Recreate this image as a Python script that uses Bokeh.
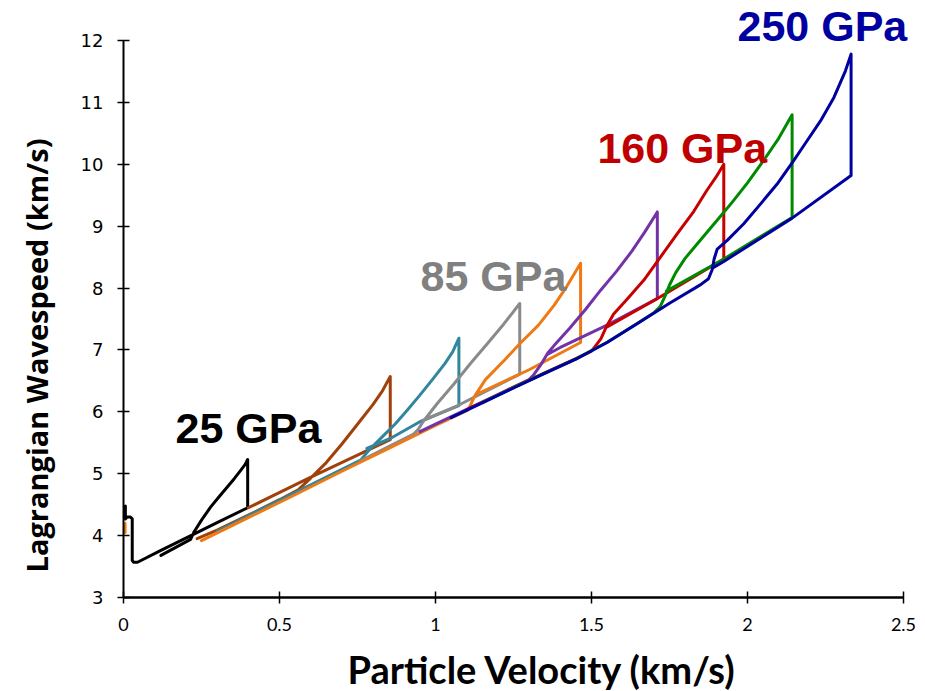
import math
from bokeh.plotting import figure
from bokeh.models import Range1d, FixedTicker, Label, NumeralTickFormatter
from bokeh.embed import file_html
from bokeh.resources import INLINE

nan = float("nan")

# ---------------- data (u = particle velocity km/s, c = wavespeed km/s)
x_ticks = [0, 0.5, 1, 1.5, 2, 2.5]
y_ticks = [3, 4, 5, 6, 7, 8, 9, 10, 11, 12]

black_u = [0.12, 0.215, 0.225, 0.25, 0.279, 0.305, 0.332, 0.355, 0.375, 0.390, 0.398, 0.398, 0.30, 0.224, 0.12, 0.045, 0.032, 0.028, 0.028, 0.022, 0.012, 0.006, 0.006]
black_c = [3.68, 3.94, 4.05, 4.25, 4.46, 4.62, 4.78, 4.92, 5.05, 5.15, 5.23, 4.45, 4.21, 4.02, 3.76, 3.57, 3.57, 3.60, 4.27, 4.30, 4.30, 4.27, 4.48]

brown_u = [0.236, 0.30, 0.40, 0.50, 0.56, 0.60, 0.65, 0.70, 0.75, 0.80, 0.83, 0.855, 0.855, 0.594, 0.40]
brown_c = [3.95, 4.09, 4.33, 4.58, 4.74, 4.93, 5.18, 5.48, 5.80, 6.12, 6.34, 6.57, 5.55, 4.93, 4.45]

teal_u = [0.30, 0.40, 0.50, 0.60, 0.70, 0.76, 0.79, 0.83, 0.87, 0.91, 0.95, 0.99, 1.03, 1.055, 1.075, 1.075, 0.95, 0.855, 0.78]
teal_c = [4.07, 4.32, 4.57, 4.82, 5.07, 5.22, 5.40, 5.60, 5.80, 6.03, 6.27, 6.52, 6.78, 6.97, 7.19, 6.10, 5.84, 5.57, 5.41]

gray_u = [0.76, 0.85, 0.93, 0.945, 0.96, 1.005, 1.059, 1.112, 1.166, 1.219, 1.27, 1.27, 1.075, 0.96]
gray_c = [5.21, 5.44, 5.64, 5.72, 5.84, 6.13, 6.45, 6.78, 7.10, 7.42, 7.75, 6.61, 6.11, 5.86]

orange_u = [0.005, 0.005, nan, 0.25, 0.40, 0.55, 0.70, 0.85, 1.00, 1.08, 1.105, 1.125, 1.16, 1.22, 1.27, 1.33, 1.38, 1.42, 1.465, 1.465, 1.30, 1.13]
orange_c = [4.05, 4.20, nan, 3.92, 4.29, 4.66, 5.04, 5.41, 5.78, 5.97, 6.03, 6.25, 6.52, 6.83, 7.10, 7.40, 7.72, 8.02, 8.40, 7.12, 6.68, 6.28]

purple_u = [0.95, 1.00, 1.10, 1.20, 1.30, 1.315, 1.34, 1.36, 1.38, 1.43, 1.48, 1.53, 1.58, 1.63, 1.67, 1.711, 1.711, 1.55, 1.40, 1.36]
purple_c = [5.68, 5.80, 6.04, 6.28, 6.52, 6.60, 6.78, 6.95, 7.07, 7.35, 7.65, 7.97, 8.27, 8.60, 8.90, 9.23, 7.83, 7.40, 7.04, 6.93]

red_u = [1.10, 1.15, 1.25, 1.35, 1.45, 1.50, 1.53, 1.55, 1.571, 1.614, 1.668, 1.721, 1.775, 1.828, 1.87, 1.90, 1.924, 1.924, 1.721, 1.55]
red_c = [6.035, 6.155, 6.395, 6.63, 6.86, 6.98, 7.18, 7.40, 7.58, 7.82, 8.13, 8.50, 8.88, 9.24, 9.58, 9.80, 10.0, 8.47, 7.86, 7.37]

green_u = [1.15, 1.25, 1.35, 1.45, 1.55, 1.65, 1.70, 1.72, 1.735, 1.75, 1.77, 1.80, 1.85, 1.90, 1.95, 2.00, 2.05, 2.10, 2.143, 2.143, 1.924, 1.74]
green_c = [6.15, 6.39, 6.625, 6.855, 7.125, 7.44, 7.60, 7.70, 7.86, 8.05, 8.25, 8.48, 8.78, 9.08, 9.38, 9.70, 10.05, 10.42, 10.80, 9.14, 8.47, 7.95]

blue_u = [1.05, 1.15, 1.25, 1.35, 1.45, 1.55, 1.65, 1.75, 1.85, 1.875, 1.887, 1.893, 1.903, 1.935, 1.988, 2.042, 2.095, 2.148, 2.191, 2.234, 2.277, 2.314, 2.332, 2.332, 2.143, 1.924, 1.89]
blue_c = [5.905, 6.145, 6.385, 6.62, 6.85, 7.12, 7.435, 7.755, 8.055, 8.15, 8.30, 8.47, 8.63, 8.77, 9.04, 9.36, 9.68, 10.06, 10.38, 10.70, 11.08, 11.51, 11.78, 9.82, 9.13, 8.43, 8.33]

series = [
    (black_u, black_c, "#000000"),
    (brown_u, brown_c, "#A0410A"),
    (teal_u, teal_c, "#31869E"),
    (gray_u, gray_c, "#8A8A8A"),
    (orange_u, orange_c, "#EE7A16"),
    (purple_u, purple_c, "#7333A6"),
    (red_u, red_c, "#C80000"),
    (green_u, green_c, "#008A00"),
    (blue_u, blue_c, "#0000A0"),
]

pressure_labels = ["25 GPa", "85 GPa", "160 GPa", "250 GPa"]
pressure_colors = ["#000000", "#808080", "#C00000", "#0000A0"]
label_u = [0.1667, 0.952, 1.519, 1.968]
label_c = [5.74, 8.195, 10.263, 12.234]

# ---------------- figure: the frame covers the whole canvas, axes are pinned at u=0 and c=3
PX_U = 312.0          # pixels per km/s on x
PX_C = 557.0 / 9.0    # pixels per km/s on y
W, H = 925, 691
x0 = -123.0 / PX_U
x1 = x0 + W / PX_U
y1 = 12.0 + 40.0 / PX_C
y0 = y1 - H / PX_C

p = figure(width=W, height=H, x_range=Range1d(x0, x1), y_range=Range1d(y0, y1),
           output_backend="svg", toolbar_location=None,
           min_border_left=0, min_border_right=0, min_border_top=0, min_border_bottom=0)
p.xgrid.visible = False
p.ygrid.visible = False
p.outline_line_color = None

for u, c, col in series:
    p.line(u, c, line_color=col, line_width=3, line_join="round", line_cap="round")

for txt, col, lu, lc in zip(pressure_labels, pressure_colors, label_u, label_c):
    p.add_layout(Label(x=lu, y=lc, text=txt, text_color=col, text_font="Liberation Sans",
                       text_font_style="bold", text_font_size="43px",
                       text_align="left", text_baseline="middle"))

# axes
for ax in (p.xaxis[0], p.yaxis[0]):
    ax.axis_line_color = "black"
    ax.major_tick_line_color = "black"
    ax.major_tick_line_width = 1.5
    ax.major_tick_in = 6
    ax.major_tick_out = 6
    ax.minor_tick_line_color = None
    ax.major_label_text_color = "black"

p.xaxis.fixed_location = 3
p.yaxis.fixed_location = 0
p.xaxis.bounds = (0, 2.5)
p.yaxis.bounds = (3, 12)
p.xaxis.axis_line_width = 2.5
p.yaxis.axis_line_width = 2
p.xaxis.ticker = FixedTicker(ticks=x_ticks)
p.yaxis.ticker = FixedTicker(ticks=y_ticks)
p.xaxis.formatter = NumeralTickFormatter(format="0.[0]")
p.yaxis.formatter = NumeralTickFormatter(format="0")
p.xaxis.major_label_text_font = "Lato"
p.xaxis.major_label_text_font_size = "18px"
p.xaxis.major_label_standoff = 14
p.yaxis.major_label_text_font = "DejaVu Sans"
p.yaxis.major_label_text_font_size = "18px"
p.yaxis.major_label_standoff = 14

# axis titles
p.add_layout(Label(x=0.718, y=1.837, text="Particle Velocity (km/s)", text_color="black",
                   text_font="Lato", text_font_style="bold", text_font_size="38px",
                   text_align="left", text_baseline="middle"))
p.add_layout(Label(x=-0.2788, y=3.404, text="Lagrangian Wavespeed (km/s)", text_color="black",
                   text_font="Open Sans", text_font_style="bold", text_font_size="29px",
                   angle=math.pi / 2, text_align="left", text_baseline="middle"))

open("out.html", "w").write(file_html(p, INLINE))
